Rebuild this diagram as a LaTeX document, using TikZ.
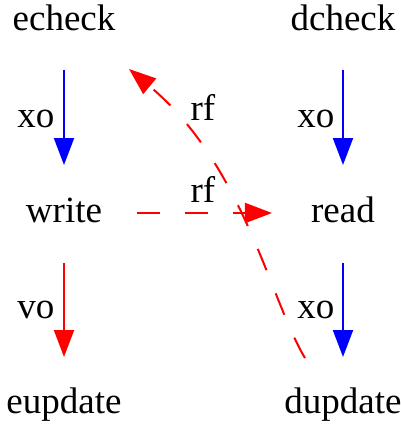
\documentclass[tikz,border=0pt]{standalone}
\usepackage{fontspec}
\setmainfont{Liberation Serif}
\usetikzlibrary{arrows.meta,calc}
\begin{document}
\begin{tikzpicture}[x=0.5pt,y=-0.5pt,
  lbl/.style={inner sep=0pt,anchor=base,font=\fontsize{18.5pt}{20pt}\selectfont},
  edge/.style={line width=1pt,-{Triangle[length=13.5pt,width=10pt]}},
  blueedge/.style={edge,draw=blue},
  rededge/.style={edge,draw=red},
  rfedge/.style={rededge,dash pattern=on 11.5pt off 12.5pt}]
\useasboundingbox (0,0) rectangle (401,425);
\node[lbl] (echeck) at (64,30) {echeck};
\node[lbl] (dcheck) at (343,30) {dcheck};
\node[lbl] (write) at (64,222) {write};
\node[lbl] (read) at (343,222) {read};
\node[lbl] (eupdate) at (64,413) {eupdate};
\node[lbl] (dupdate) at (343,413) {dupdate};
\draw[blueedge,shorten <=20pt,shorten >=28.5pt] (echeck.base) -- (write.base);
\draw[rededge,shorten <=20.5pt,shorten >=28pt] (write.base) -- (eupdate.base);
\draw[blueedge,shorten <=20pt,shorten >=28.5pt] (dcheck.base) -- (read.base);
\draw[blueedge,shorten <=20.5pt,shorten >=28pt] (read.base) -- (dupdate.base);
\draw[rfedge] ($(write.base)+(73,-9)$) -- ($(read.base)+(-71,-9)$);
\draw[rfedge] ($(dupdate.base)+(-38,-55)$) .. controls ($(dupdate.base)+(-73,-113)$) and ($(echeck.base)+(180,135)$) .. ($(echeck.base)+(65,39)$);
\node[lbl] (xo1) at (36,127) {xo};
\node[lbl] (vo1) at (36,318) {vo};
\node[lbl] (xo2) at (316,127) {xo};
\node[lbl] (xo3) at (316,318) {xo};
\node[lbl] (rf1) at (203,120) {rf};
\node[lbl] (rf2) at (203,202) {rf};
\end{tikzpicture}
\end{document}
